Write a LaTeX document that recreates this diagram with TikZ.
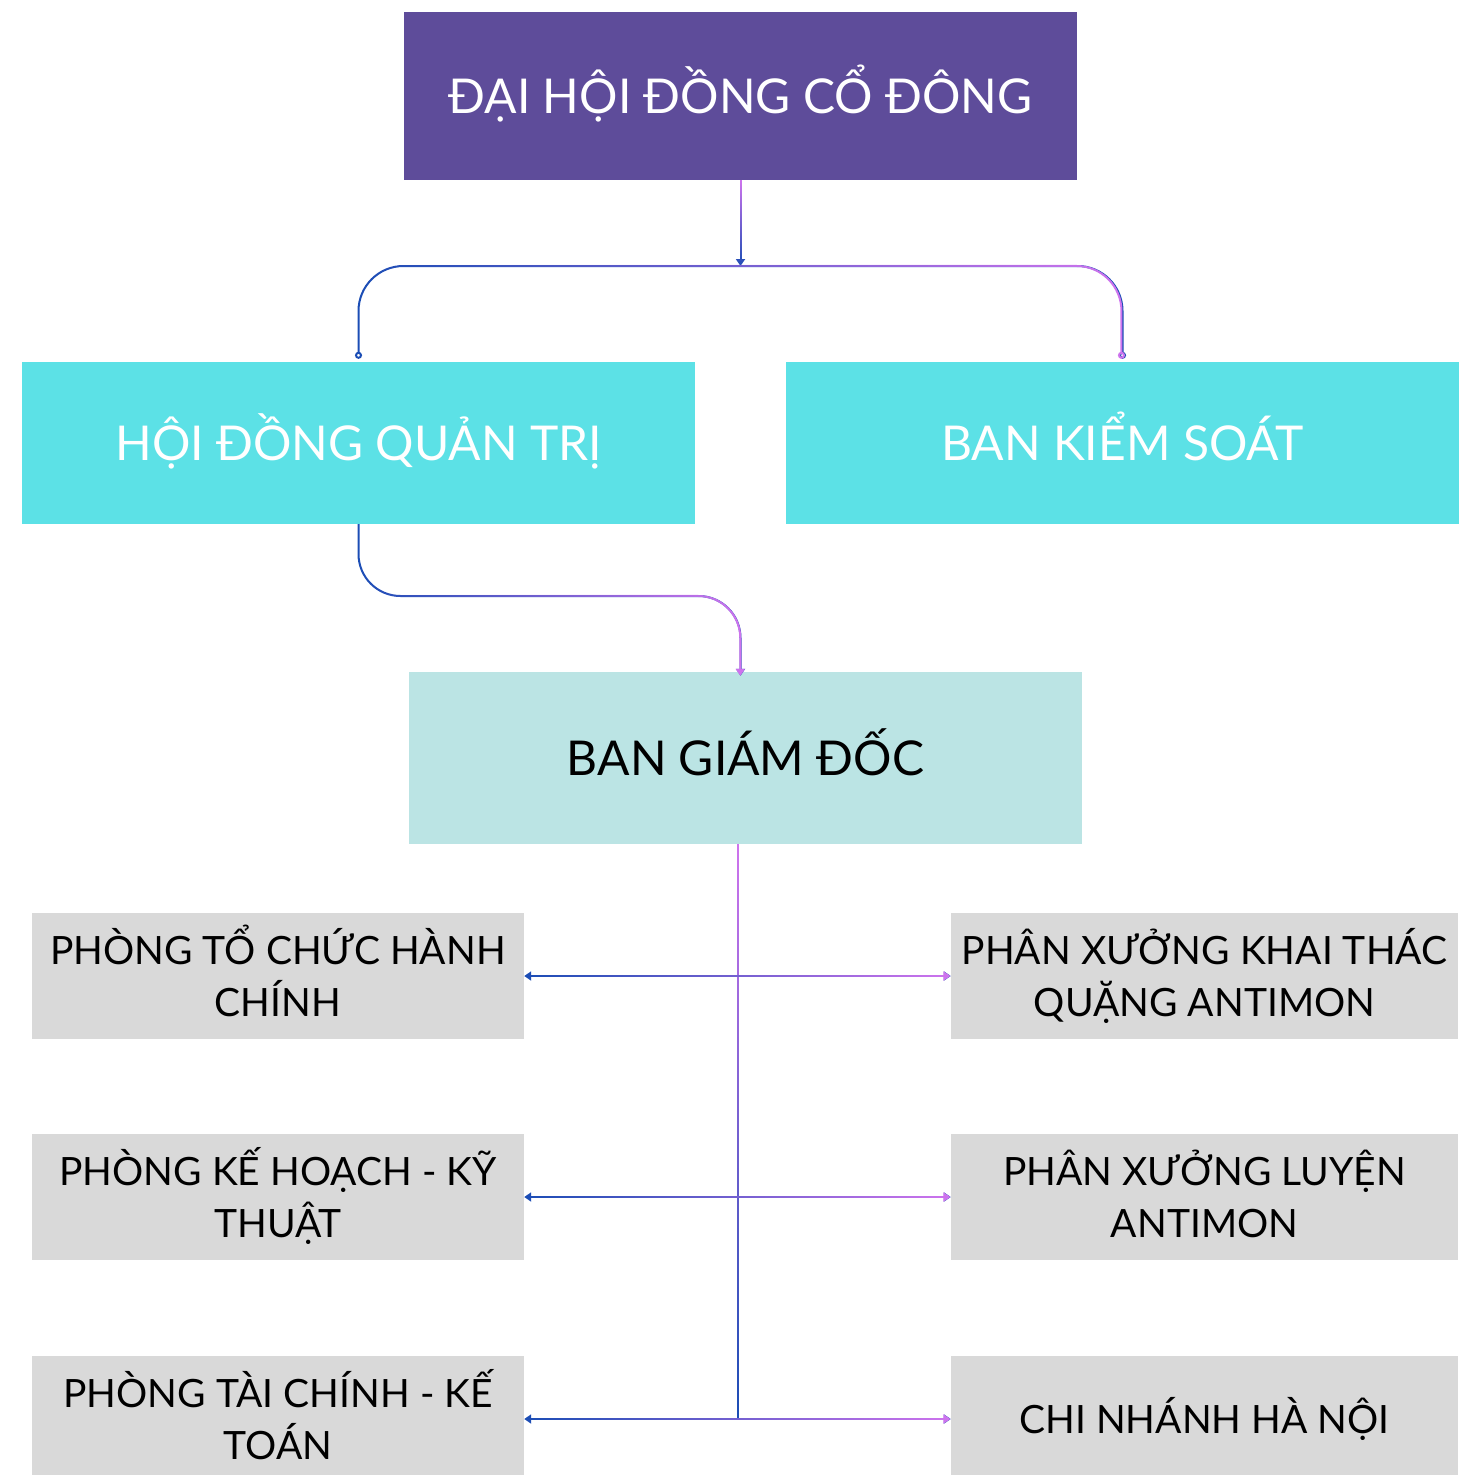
\documentclass[tikz,border=0pt]{standalone}
\usepackage{fontspec}
\setmainfont{Lato}
\usetikzlibrary{arrows.meta,fadings}

\definecolor{topbox}{HTML}{5E4C9A}
\definecolor{boardbox}{HTML}{5CE1E6}
\definecolor{ceobox}{HTML}{BBE4E4}
\definecolor{deptbox}{HTML}{D9D9D9}
\definecolor{linkblue}{HTML}{1B4DB5}
\definecolor{linkpink}{HTML}{CF74EE}

\tikzfading[name=pinkright, left color=transparent!100, right color=transparent!0]
\tikzfading[name=pinkup, top color=transparent!0, bottom color=transparent!100]

\tikzset{
  link/.style={draw=linkblue, line width=2pt},
  % bent links: the fading is fitted to the path
  linkh/.style={link, postaction={draw=linkpink, path fading=pinkright}},
  % straight links: centre and stretch of the fading given by hand
  linkhs/.style n args={3}{link, postaction={draw=linkpink, path fading=pinkright,
      fit fading=false, fading transform={shift={(#1,#2)}, xscale=#3}}},
  linkvs/.style n args={3}{link, postaction={draw=linkpink, path fading=pinkup,
      fit fading=false, fading transform={shift={(#1,#2)}, yscale=#3}}},
  twoline/.style={text height=80pt},
}

\begin{document}
\begin{tikzpicture}[x=1pt, y=-1pt, >={Triangle[width=9pt,length=7pt]}]

  \useasboundingbox (0,0) rectangle (1464,1475);

  \begin{scope}[every node/.style={minimum width=673pt, inner sep=0pt,
      align=center, text height=34.5pt, text depth=0pt,
      font=\fontsize{48}{58}\selectfont}]
    \node[fill=topbox, text=white, minimum height=168pt] (dhcd) at (740.5,96) {ĐẠI HỘI ĐỒNG CỔ ĐÔNG};
    \node[fill=boardbox, text=white, minimum height=162pt] (hdqt) at (358.5,443) {HỘI ĐỒNG QUẢN TRỊ};
    \node[fill=boardbox, text=white, minimum height=162pt] (bks) at (1122.5,443) {BAN KIỂM SOÁT};
    \node[fill=ceobox, text=black, minimum height=172pt] (bgd) at (745.5,758) {BAN GIÁM ĐỐC};
  \end{scope}

  \begin{scope}[every node/.style={fill=deptbox, text=black, inner sep=0pt,
      minimum height=126pt, align=center, text height=28pt, text depth=0pt,
      font=\fontsize{39}{52}\selectfont}]
    \node[twoline, minimum width=492pt] (ptc)  at (278,976)  {PHÒNG TỔ CHỨC HÀNH\\CHÍNH};
    \node[twoline, minimum width=492pt] (pkh)  at (278,1197) {PHÒNG KẾ HOẠCH - KỸ\\THUẬT};
    \node[twoline, minimum width=492pt] (ptck) at (278,1419) {PHÒNG TÀI CHÍNH - KẾ\\TOÁN};
    \node[twoline, minimum width=507pt] (pxkt) at (1204.5,976)  {PHÂN XƯỞNG KHAI THÁC\\QUẶNG ANTIMON};
    \node[twoline, minimum width=507pt] (pxl)  at (1204.5,1197) {PHÂN XƯỞNG LUYỆN\\ANTIMON};
    \node[minimum width=507pt] (cnhn) at (1204.5,1419) {CHI NHÁNH HÀ NỘI};
  \end{scope}

  \coordinate (split) at (740.5,266);
  \coordinate (bend) at (740.5,596);
  \coordinate (trunkend) at (738,1418);

  \draw[linkvs={740.5}{223}{1.71}, ->] (dhcd.south) -- (split);
  \draw[linkh, rounded corners=45pt,
    {Circle[open,length=7pt,width=7pt]}-{Circle[open,length=7pt,width=7pt]}]
    ([yshift=3pt]hdqt.north) |- (split) -| ([yshift=3pt]bks.north);
  \draw[linkh, rounded corners=42pt, ->]
    (hdqt.south) |- (bend) -- ([yshift=-4pt]dhcd.south |- bgd.north);
  \draw[linkvs={738}{1131}{11.44}] (bgd.south -| trunkend) -- (trunkend);

  \begin{scope}[every edge/.style={<->}]
    \path (ptc)  edge[linkhs={738}{976}{8.49}]  (pxkt);
    \path (pkh)  edge[linkhs={738}{1197}{8.49}] (pxl);
    \path (ptck) edge[linkhs={738}{1419}{8.49}] (cnhn);
  \end{scope}

\end{tikzpicture}
\end{document}
